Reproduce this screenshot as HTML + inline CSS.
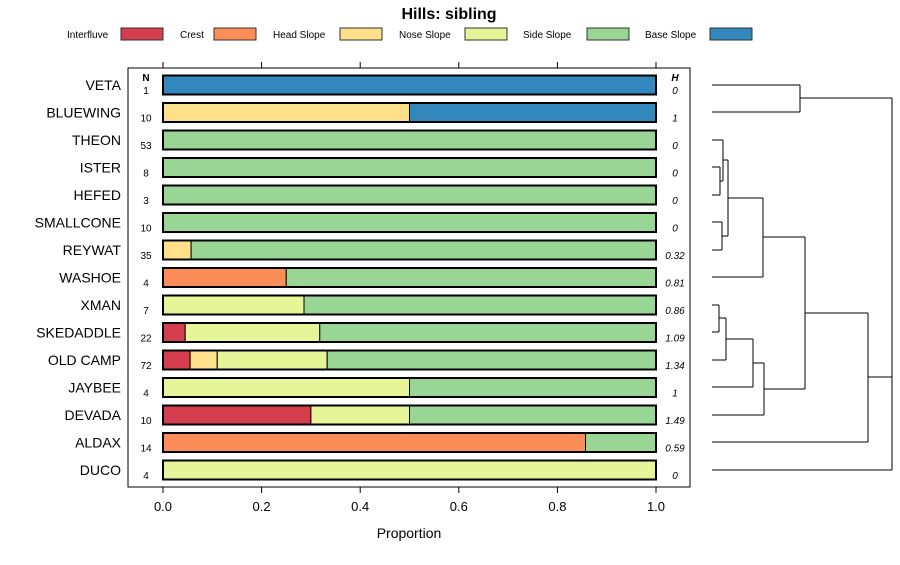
<!DOCTYPE html>
<html><head><meta charset="utf-8"><style>
body{margin:0;background:#fff;font-family:"Liberation Sans",sans-serif}
text{font-family:"Liberation Sans",sans-serif}
</style></head><body>
<svg id="c" width="900" height="560" xmlns="http://www.w3.org/2000/svg">
<text x="449" y="19" text-anchor="middle" font-size="16" font-weight="bold">Hills: sibling</text>
<g id="legend"></g>
<rect x="128" y="68" width="562" height="419" fill="none" stroke="#000" stroke-width="1"/>
<g id="bars"></g><g id="axes"></g><g id="dendro" stroke="#000" stroke-width="1" fill="none"></g>
<text x="409" y="538" text-anchor="middle" font-size="14">Proportion</text>
</svg>
<script>
const classes=["Interfluve","Crest","Head Slope","Nose Slope","Side Slope","Base Slope"];
const colors=["#D53E4F","#FC8D59","#FEE08B","#E6F598","#99D594","#3288BD"];
const sites=["VETA","BLUEWING","THEON","ISTER","HEFED","SMALLCONE","REYWAT","WASHOE","XMAN","SKEDADDLE","OLD CAMP","JAYBEE","DEVADA","ALDAX","DUCO"];
const counts=[1,10,53,8,3,10,35,4,7,22,72,4,10,14,4];
const entropy=["0","1","0","0","0","0","0.32","0.81","0.86","1.09","1.34","1","1.49","0.59","0"];
const interfluve=[0,0,0,0,0,0,0,0,0,0.045,0.055,0,0.3,0,0];
const crest=[0,0,0,0,0,0,0,0.25,0,0,0,0,0,0.857,0];
const headSlope=[0,0.5,0,0,0,0,0.057,0,0,0,0.055,0,0,0,0];
const noseSlope=[0,0,0,0,0,0,0,0,0.286,0.273,0.223,0.5,0.2,0,1];
const sideSlope=[0,0,1,1,1,1,0.943,0.75,0.714,0.682,0.667,0.5,0.5,0.143,0];
const baseSlope=[1,0.5,0,0,0,0,0,0,0,0,0,0,0,0,0];
const xTicks=[0,0.2,0.4,0.6,0.8,1.0];
const series=[interfluve,crest,headSlope,noseSlope,sideSlope,baseSlope];
const NS="http://www.w3.org/2000/svg";
const X=v=>163+v*493, Y=i=>85+i*27.5;
function mk(p,tag,a){const e=document.createElementNS(NS,tag);for(const k in a)e.setAttribute(k,a[k]);p.appendChild(e);return e;}
const L=document.getElementById('legend');
const lx=[67,180,273,399,523,645], sx=[121,214,340,465,587,710];
classes.forEach((c,i)=>{
 const t=mk(L,'text',{x:lx[i],y:38,'font-size':10});t.textContent=c;
 
 
 const r=mk(L,'rect',{x:sx[i],y:28,width:42,height:12,fill:colors[i],stroke:'#333'});
 
 
});
const B=document.getElementById('bars');
sites.forEach((s,i)=>{
 const y=Y(i);let acc=0;
 series.forEach((ser,k)=>{const v=ser[i];if(v>0){
  const r=mk(B,'rect',{x:X(acc),y:y-9.5,width:v*493,height:19,fill:colors[k],stroke:'#000','stroke-width':1});
  
  
  acc+=v;}});
 const o=mk(B,'rect',{x:X(0),y:y-9.5,width:493,height:19,fill:'none',stroke:'#000','stroke-width':2});
 
 
 const l=mk(B,'text',{x:121,y:y+5,'text-anchor':'end','font-size':14});l.textContent=s;
 
 
 const n=mk(B,'text',{x:146,y:y+9,'text-anchor':'middle','font-size':10});n.textContent=counts[i];
 
 
 const h=mk(B,'text',{x:675,y:y+9,'text-anchor':'middle','font-size':10,'font-style':'italic'});h.textContent=entropy[i];
 
 
});
const hN=mk(B,'text',{x:146,y:81,'text-anchor':'middle','font-size':10,'font-weight':'bold'});hN.textContent='N';


const hH=mk(B,'text',{x:675,y:81,'text-anchor':'middle','font-size':10,'font-weight':'bold','font-style':'italic'});hH.textContent='H';


const A=document.getElementById('axes');
xTicks.forEach(t=>{
 mk(A,'line',{x1:X(t),x2:X(t),y1:62,y2:68,stroke:'#000'});
 mk(A,'line',{x1:X(t),x2:X(t),y1:487,y2:493,stroke:'#000'});
 const tx=mk(A,'text',{x:X(t),y:511,'text-anchor':'middle','font-size':13});tx.textContent=t.toFixed(1);
 
 
});
const D=document.getElementById('dendro');
const segs=[[712,85,800,85],[712,112,800,112],[800,85,800,112],[800,98,892,98],
[712,140,723,140],[712,167,720,167],[712,195,720,195],[720,167,720,195],[720,181,723,181],[723,140,723,181],
[712,222,722,222],[712,250,722,250],[722,222,722,250],[723,160,728,160],[722,236,728,236],[728,160,728,236],
[728,198,763,198],[712,277,763,277],[763,198,763,277],[763,237,805,237],
[712,305,719,305],[712,332,719,332],[719,305,719,332],[719,318,726,318],[712,360,726,360],[726,318,726,360],
[726,339,753,339],[712,387,753,387],[753,339,753,387],[753,363,764,363],[712,415,764,415],[764,363,764,415],
[764,389,805,389],[805,237,805,389],[805,313,868,313],[712,442,868,442],[868,313,868,442],[868,377,892,377],
[712,470,892,470],[892,98,892,470]];
segs.forEach(s=>mk(D,'line',{x1:s[0],y1:s[1],x2:s[2],y2:s[3]}));
</script>
</body></html>
